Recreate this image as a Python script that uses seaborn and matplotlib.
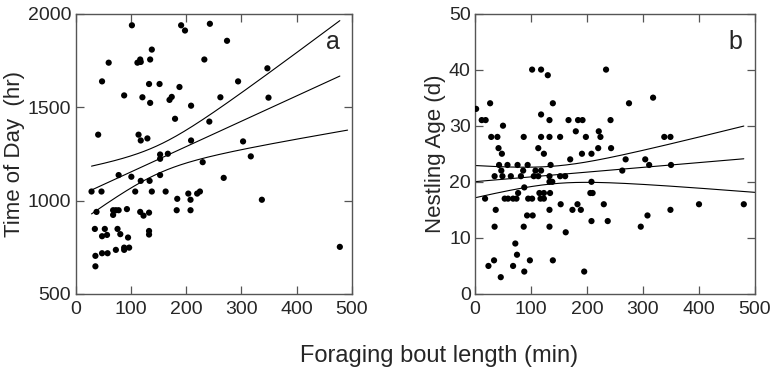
import numpy as np
import pandas as pd
import matplotlib
matplotlib.use("Agg")
import matplotlib.pyplot as plt
from matplotlib import font_manager
import seaborn as sns

# Panel a: foraging bout length (min) vs time of day (hr)
a_bout = [102, 191, 198, 243, 138, 60, 112, 117, 118, 135, 233, 48, 133, 152, 188,
          88, 121, 135, 170, 174, 209, 180, 242, 41, 114, 118, 130, 209, 153, 153,
          167, 230, 78, 101, 118, 134, 153, 29, 47, 108, 138, 163, 184, 204, 208,
          220, 225, 183, 208, 38, 68, 73, 78, 68, 93, 117, 123, 133, 35, 53,
          76, 48, 57, 81, 95, 133, 133, 36, 48, 58, 73, 88, 88, 97, 36,
          274, 347, 294, 262, 349, 303, 317, 268, 337, 478]
a_time = [1937, 1937, 1909, 1945, 1807, 1737, 1737, 1754, 1741, 1754, 1754, 1637, 1623, 1623, 1607,
          1562, 1552, 1522, 1538, 1554, 1507, 1437, 1422, 1352, 1352, 1321, 1332, 1321, 1246, 1223,
          1250, 1205, 1136, 1127, 1105, 1105, 1136, 1048, 1048, 1048, 1048, 1048, 1009, 1037, 1004,
          1037, 1048, 948, 948, 939, 948, 948, 948, 923, 954, 939, 919, 935, 848, 848,
          848, 809, 816, 820, 802, 837, 818, 704, 718, 718, 736, 736, 748, 748, 648,
          1854, 1707, 1637, 1552, 1550, 1316, 1236, 1121, 1004, 752]

# Panel b: foraging bout length (min) vs nestling age (d)
b_bout = [102, 118, 130, 234, 2, 27, 12, 19, 50, 139, 118, 133, 167, 184, 192, 242,
          29, 40, 87, 118, 133, 152, 180, 198, 221, 224, 42, 48, 113, 123, 170, 191,
          208, 220, 243, 43, 58, 76, 94, 47, 86, 108, 118, 135, 35, 49, 64, 82,
          105, 113, 133, 152, 161, 133, 138, 208, 88, 77, 115, 123, 134, 206, 210,
          18, 53, 59, 68, 74, 95, 102, 117, 123, 37, 93, 103, 133, 153, 174, 189,
          183, 230, 208, 237, 35, 87, 133, 162, 72, 75, 34, 24, 68, 98, 139, 88,
          46, 195, 275, 318, 338, 349, 269, 304, 311, 263, 350, 296, 308, 349, 400, 480]
b_age = [40, 40, 39, 40, 33, 34, 31, 31, 30, 34, 32, 31, 31, 31, 31, 31,
         28, 28, 28, 28, 28, 28, 29, 28, 29, 28, 26, 25, 26, 25, 24, 25,
         25, 26, 26, 23, 23, 23, 23, 22, 22, 22, 22, 23, 21, 21, 21, 21,
         21, 21, 21, 21, 21, 20, 20, 20, 19, 18, 18, 18, 18, 18, 18,
         17, 17, 17, 17, 17, 17, 17, 17, 17, 15, 14, 14, 15, 16, 15, 15,
         16, 16, 13, 13, 12, 12, 12, 11, 9, 7, 6, 5, 5, 6, 6, 4,
         3, 4, 34, 35, 28, 28, 24, 24, 23, 22, 23, 12, 14, 15, 16, 16]

T_CRIT = 1.98  # two-sided 95% Student t for n ~ 85-110


def fit_with_ci(x, y, grid):
    x = np.asarray(x, float)
    y = np.asarray(y, float)
    n = len(x)
    slope, icpt = np.polyfit(x, y, 1)
    resid = y - (icpt + slope * x)
    s = np.sqrt(np.sum(resid ** 2) / (n - 2))
    sxx = np.sum((x - x.mean()) ** 2)
    yhat = icpt + slope * grid
    se = s * np.sqrt(1.0 / n + (grid - x.mean()) ** 2 / sxx)
    return yhat, yhat - T_CRIT * se, yhat + T_CRIT * se


sns.set_style("ticks")
plt.rcParams['font.family'] = ['Liberation Sans', 'DejaVu Sans']
installed = {f.name for f in font_manager.fontManager.ttflist}
tick_font = 'Liberation Sans Narrow' if 'Liberation Sans Narrow' in installed else 'Liberation Sans'

fig = plt.figure(figsize=(7.73, 3.75), dpi=100)
ax_a = fig.add_axes([75.5 / 773, 1 - 294 / 375, (352 - 75.5) / 773, 280.5 / 375])
ax_b = fig.add_axes([475 / 773, 1 - 294 / 375, (755 - 475) / 773, 280.5 / 375])

spine_col = '#555555'
panels = [
    (ax_a, a_bout, a_time, (0, 492), (500, 2000), [500, 1000, 1500, 2000], 'Time of Day  (hr)', 'a'),
    (ax_b, b_bout, b_age, (0, 500), (0, 50), [0, 10, 20, 30, 40, 50], 'Nestling Age (d)', 'b'),
]

for ax, xs, ys, xlim, ylim, yticks, ylab, tag in panels:
    df = pd.DataFrame({'bout': xs, 'val': ys})
    sns.scatterplot(data=df, x='bout', y='val', ax=ax, color='black', s=20,
                    edgecolor='none', linewidth=0, zorder=3)
    xmin, xmax = min(xs), max(xs)
    grid = np.linspace(xmin, xmax, 200)
    yhat, lo, hi = fit_with_ci(xs, ys, grid)
    grid_lo = np.linspace(xmin, xlim[1], 200)
    _, lo2, _ = fit_with_ci(xs, ys, grid_lo)
    sns.lineplot(x=grid, y=yhat, ax=ax, color='black', lw=0.8)
    sns.lineplot(x=grid, y=hi, ax=ax, color='black', lw=0.8)
    sns.lineplot(x=grid_lo, y=lo2, ax=ax, color='black', lw=0.8)

    ax.set_xlim(*xlim)
    ax.set_ylim(*ylim)
    ax.set_xticks([0, 100, 200, 300, 400, 500])
    ax.set_yticks(yticks)
    ax.tick_params(direction='in', length=6, width=0.9, color=spine_col,
                   top=True, right=True, labelsize=14, pad=3,
                   labelfontfamily=tick_font)
    ax.tick_params(axis='x', pad=5)
    for sp in ax.spines.values():
        sp.set_visible(True)
        sp.set_color(spine_col)
        sp.set_linewidth(1.0)
    ax.set_xlabel('')
    ax.set_ylabel(ylab, fontsize=16, labelpad=2)
    ax.text(0.955, 0.9, tag, transform=ax.transAxes, ha='right', va='center',
            fontsize=18)

fig.text(439 / 773, 1 - 356 / 375, 'Foraging bout length (min)', ha='center', va='center',
         fontsize=17)

fig.savefig('out.png', dpi=100)
